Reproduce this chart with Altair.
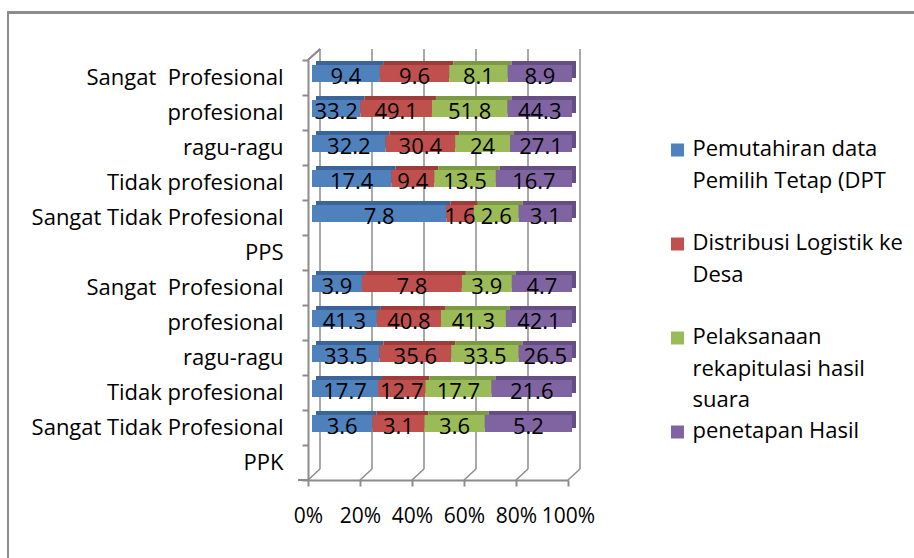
import json
import altair as alt
import pandas as pd

# ---------------- data ----------------
CATEGORIES = ["Sangat\u00a0 Profesional", "profesional", "ragu-ragu", "Tidak profesional",
              "Sangat Tidak Profesional", "PPS",
              "Sangat\u00a0 Profesional", "profesional", "ragu-ragu", "Tidak profesional",
              "Sangat Tidak Profesional", "PPK"]
SERIES = ["Pemutahiran data Pemilih Tetap (DPT", "Distribusi Logistik ke Desa",
          "Pelaksanaan rekapitulasi hasil suara", "penetapan Hasil"]
LEGEND_LABELS = ["Pemutahiran data\nPemilih Tetap (DPT", "Distribusi Logistik ke\nDesa",
                 "Pelaksanaan\nrekapitulasi hasil\nsuara", "penetapan Hasil"]
DPT = [9.4, 33.2, 32.2, 17.4, 7.8, None, 3.9, 41.3, 33.5, 17.7, 3.6, None]
LOGISTIK = [9.6, 49.1, 30.4, 9.4, 1.6, None, 7.8, 40.8, 35.6, 12.7, 3.1, None]
REKAP = [8.1, 51.8, 24, 13.5, 2.6, None, 3.9, 41.3, 33.5, 17.7, 3.6, None]
PENETAPAN = [8.9, 44.3, 27.1, 16.7, 3.1, None, 4.7, 42.1, 26.5, 21.6, 5.2, None]
TICKS = [0, 0.2, 0.4, 0.6, 0.8, 1.0]

# ---------------- style ----------------
COLORS = ["#4F81BD", "#C0504D", "#9BBB59", "#8064A2"]
SIDE_COLORS = ["#3B6598", "#9C3D3A", "#7C9A45", "#654E84"]
FONT = "Open Sans"
FS = 22
FS_X = 21
GRAY = "#8c8c8c"
W, H = 260, 420

rows = []
for si, (name, vals) in enumerate(zip(SERIES, [DPT, LOGISTIK, REKAP, PENETAPAN])):
    for ri, v in enumerate(vals):
        if v is not None:
            rows.append({"row": ri, "series": name, "order": si, "value": v})
df = pd.DataFrame(rows)
ticks_df = pd.DataFrame({"t": TICKS})
leg_df = pd.DataFrame({"series": SERIES, "label": LEGEND_LABELS})

label_expr = json.dumps(CATEGORIES) + "[datum.value]"

xscale = alt.Scale(domain=[0, 1], nice=False, zero=True)
xaxis = alt.Axis(values=TICKS, format="%", grid=False, tickSize=6, labelPadding=19,
                 title=None, labelFontSize=FS_X, labelFont=FONT, labelColor="black",
                 labelFlush=False, labelOverlap=False)
Y = alt.Y("row:O", scale=alt.Scale(domain=list(range(12)), paddingInner=0, paddingOuter=0),
          axis=alt.Axis(labelExpr=label_expr, tickBand="extent", tickSize=6, labelPadding=19,
                        title=None, labelFontSize=FS, labelFont=FONT, labelColor="black",
                        labelLimit=0))

cscale = alt.Scale(domain=SERIES, range=COLORS)

stacked = alt.Chart(df).transform_stack(
    stack="value", groupby=["row"], as_=["x0", "x1"], offset="normalize",
    sort=[alt.SortField("order", order="ascending")]
)

back = stacked.mark_bar(size=17, xOffset=8, x2Offset=8, yOffset=-8).encode(
    x=alt.X("x0:Q", scale=xscale, axis=xaxis), x2="x1:Q", y=Y,
    fill=alt.Fill("series:N", scale=alt.Scale(domain=SERIES, range=SIDE_COLORS), legend=None),
)
front = stacked.mark_bar(size=17, xOffset=4, x2Offset=4, yOffset=-4).encode(
    x=alt.X("x0:Q", scale=xscale, axis=xaxis), x2="x1:Q", y=Y,
    color=alt.Color("series:N", scale=cscale, legend=None),
)
labels = stacked.transform_calculate(mid="(datum.x0 + datum.x1) / 2").mark_text(
    xOffset=4, yOffset=-1, fontSize=FS, font=FONT, color="black"
).encode(
    x=alt.X("mid:Q", scale=xscale, axis=xaxis), y=Y,
    text=alt.Text("value:Q", format=".3~g"),
)

grid = alt.Chart(ticks_df).mark_rule(xOffset=12, yOffset=-11, y2Offset=-11,
                                     color=GRAY, strokeWidth=1.5).encode(
    x=alt.X("t:Q", scale=xscale, axis=xaxis), y=alt.value(0), y2=alt.value(H))
floor = alt.Chart(ticks_df).mark_rule(x2Offset=12, y2Offset=-11,
                                      color=GRAY, strokeWidth=1.5).encode(
    x=alt.X("t:Q", scale=xscale, axis=xaxis), x2="t:Q", y=alt.value(H), y2=alt.value(H))
wall_top = alt.Chart(ticks_df).mark_rule(color=GRAY, strokeWidth=1.5).encode(
    x=alt.value(0), x2=alt.value(12), y=alt.value(0), y2=alt.value(-11))
axis_ext = alt.Chart(ticks_df).mark_rule(color=GRAY, strokeWidth=2).encode(
    x=alt.value(-10), x2=alt.value(0), y=alt.value(H))
border_left = alt.Chart(ticks_df).mark_rule(color=GRAY, strokeWidth=2).encode(
    x=alt.value(-300), y=alt.value(-47.5), y2=alt.value(H + 80))
border_top = alt.Chart(ticks_df).mark_rule(color=GRAY, strokeWidth=2).encode(
    x=alt.value(-301), x2=alt.value(W + 346), y=alt.value(-47.5))

main = alt.layer(border_left, border_top, grid, floor, wall_top, axis_ext, back, front, labels)

LY = alt.Y("series:N", scale=alt.Scale(type="point", domain=SERIES, range=[90, 372], padding=0),
           axis=None)
sym = alt.Chart(leg_df).mark_square(size=169, opacity=1).encode(
    x=alt.value(369.5), y=LY, color=alt.Color("series:N", scale=cscale, legend=None))
txt = alt.Chart(leg_df).mark_text(align="left", baseline="top", dy=-11, lineBreak="\n",
                                  lineHeight=31.5, fontSize=FS, font=FONT,
                                  color="black").encode(
    x=alt.value(384.5), y=LY, text="label:N")
legend = alt.layer(sym, txt)

chart = alt.layer(main, legend).resolve_scale(y="independent").properties(
    width=W, height=H,
    autosize=alt.AutoSizeParams(type="none"),
    padding={"left": 308, "top": 60, "right": 346, "bottom": 78},
).configure_view(stroke=None).configure_axis(
    domainColor=GRAY, tickColor=GRAY, domainWidth=2, tickWidth=2
)

chart.save("out.html", embed_options={"renderer": "svg", "actions": False})
